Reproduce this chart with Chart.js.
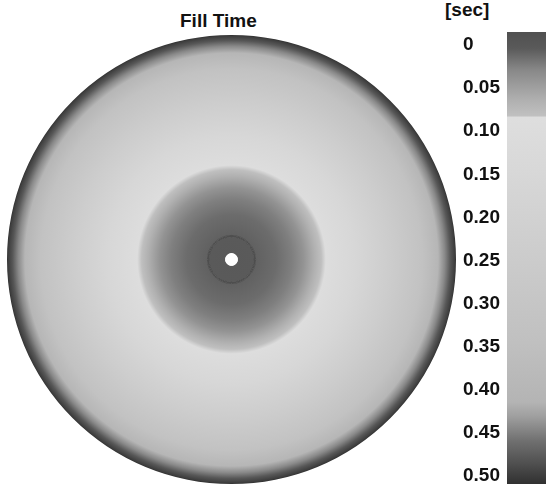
<!DOCTYPE html>
<html>
<head>
<meta charset="utf-8">
<script src="https://cdn.jsdelivr.net/npm/chart.js@4.4.1/dist/chart.umd.min.js"></script>
<style>
    html, body { margin: 0; padding: 0; background: #fff; }
    body { width: 546px; height: 486px; position: relative; overflow: hidden; font-family: "Liberation Sans", Arial, sans-serif; }
    .label { position: absolute; font-weight: bold; font-size: 19px; line-height: 19px; color: #111; white-space: nowrap; }
    #discWrap { position: absolute; left: 7px; top: 35px; width: 449px; height: 449px; }
    #barWrap { position: absolute; left: 463px; top: 0; width: 83px; height: 486px; }
</style>
</head>
<body>
<div class="label" style="left: 180px; top: 11px;">Fill Time</div>
<div class="label" style="left: 445px; top: 0px;">[sec]</div>
<div id="discWrap"><canvas id="disc"></canvas></div>
<div id="barWrap"><canvas id="bar"></canvas></div>
<script>
// colour legend ticks (seconds)
const tickValues = [0, 0.05, 0.10, 0.15, 0.20, 0.25, 0.30, 0.35, 0.40, 0.45, 0.50];
const tickLabels = ['0', '0.05', '0.10', '0.15', '0.20', '0.25', '0.30', '0.35', '0.40', '0.45', '0.50'];
const scaleMin = -0.015;
const scaleMax = 0.509;

// colour map: fill time -> grey level
const legendTimes = [-0.015, 0.004, 0.029, 0.064, 0.082, 0.084, 0.144, 0.244, 0.345, 0.414, 0.430, 0.459, 0.485, 0.509];
const legendGrey = [0x50, 0x5a, 0x88, 0xb0, 0xc0, 0xde, 0xd8, 0xcc, 0xc0, 0xb4, 0xa0, 0x70, 0x50, 0x30];

// radial fill time profile of the disc (radius as fraction of disc radius)
const profileRadius = [0, 0.10, 0.11, 0.20, 0.27, 0.32, 0.37, 0.40, 0.42, 0.55, 0.70, 0.85, 0.92, 0.95, 0.975, 0.995, 1.00];
const profileTime = [0.002, 0.004, 0.008, 0.014, 0.024, 0.039, 0.064, 0.081, 0.094, 0.154, 0.234, 0.324, 0.404, 0.444, 0.479, 0.499, 0.509];

// rings of the part, outside in, with relative thickness
const ringNames = ['Cavity', 'Gate ring', 'Inner', 'Gate'];
const ringWeights = [200, 1.5, 16.5, 6];
const ringKinds = ['fill', '#4e4e4e', 'fill', '#ffffff'];

const FONT = { family: '"Liberation Sans", Arial, sans-serif', size: 19, weight: 'bold' };

function grey(level) {
    const v = Math.round(Math.max(0, Math.min(255, level)));
    return `rgb(${v}, ${v}, ${v})`;
}

function timeToGrey(t) {
    for (let i = 1; i < legendTimes.length; i++) {
        if (t <= legendTimes[i]) {
            const a = legendTimes[i - 1];
            const b = legendTimes[i];
            const k = (t - a) / (b - a);
            return legendGrey[i - 1] + k * (legendGrey[i] - legendGrey[i - 1]);
        }
    }
    return legendGrey[legendGrey.length - 1];
}

function discFill(context) {
    const area = context.chart.chartArea;
    if (!area) return grey(0xcc);
    const cx = (area.left + area.right) / 2;
    const cy = (area.top + area.bottom) / 2;
    const r = Math.min(area.width, area.height) / 2;
    const g = context.chart.ctx.createRadialGradient(cx, cy, 0, cx, cy, r);
    profileRadius.forEach((f, i) => g.addColorStop(f, grey(timeToGrey(profileTime[i]))));
    return g;
}

function legendFill(context) {
    const chart = context.chart;
    if (!chart.chartArea || !chart.scales.y) return grey(0xcc);
    const y = chart.scales.y;
    const g = chart.ctx.createLinearGradient(0, y.getPixelForValue(scaleMin), 0, y.getPixelForValue(scaleMax));
    legendTimes.forEach((t, i) => g.addColorStop((t - scaleMin) / (scaleMax - scaleMin), grey(legendGrey[i])));
    return g;
}

new Chart(document.getElementById('disc'), {
    type: 'doughnut',
    data: {
        labels: ['Fill time'],
        datasets: ringNames.map((name, i) => {
            const solid = ringKinds[i] !== 'fill';
            return {
                label: name,
                data: [1],
                weight: ringWeights[i],
                order: solid ? -1 : 0,
                backgroundColor: solid ? ringKinds[i] : discFill,
                borderColor: solid ? ringKinds[i] : 'transparent',
                borderWidth: solid ? 1 : 0
            };
        })
    },
    options: {
        responsive: true,
        maintainAspectRatio: false,
        animation: false,
        events: [],
        cutout: 0,
        layout: { padding: 0 },
        plugins: {
            legend: { display: false },
            tooltip: { enabled: false }
        }
    }
});

new Chart(document.getElementById('bar'), {
    type: 'bar',
    data: {
        labels: ['Fill time'],
        datasets: [
            {
                data: [[scaleMin, scaleMax]],
                backgroundColor: legendFill,
                borderWidth: 0,
                barPercentage: 1,
                categoryPercentage: 1
            }
        ]
    },
    options: {
        responsive: true,
        maintainAspectRatio: false,
        animation: false,
        events: [],
        layout: { padding: { top: 32, bottom: 2, left: 0, right: 0 } },
        plugins: {
            legend: { display: false },
            tooltip: { enabled: false }
        },
        scales: {
            x: { display: false },
            y: {
                reverse: true,
                min: scaleMin,
                max: scaleMax,
                grid: { display: false },
                border: { display: false },
                afterBuildTicks: (scale) => {
                    scale.ticks = tickValues.map((v) => ({ value: v }));
                },
                afterFit: (scale) => {
                    scale.width = 44;
                    scale.paddingTop = 0;
                    scale.paddingBottom = 0;
                },
                ticks: {
                    autoSkip: false,
                    crossAlign: 'far',
                    padding: 0,
                    color: '#111',
                    font: FONT,
                    callback: (value, index) => tickLabels[index]
                }
            }
        }
    }
});
</script>
</body>
</html>
